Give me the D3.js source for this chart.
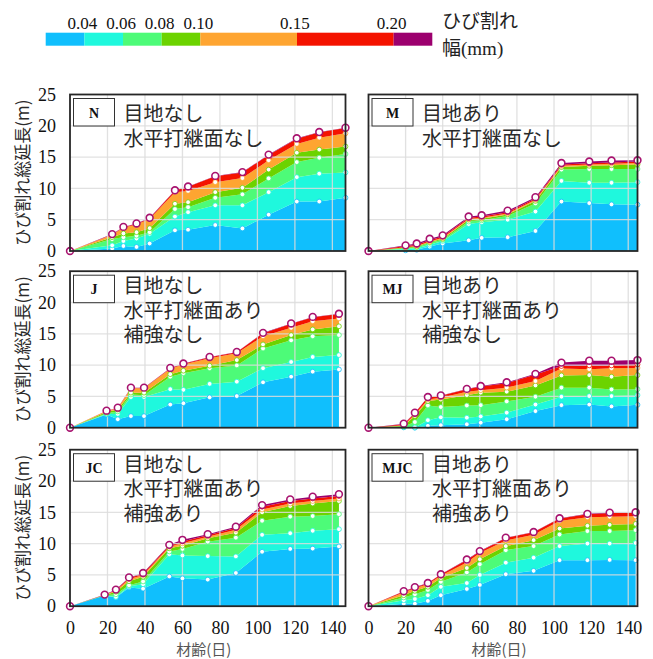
<!DOCTYPE html>
<html>
<head>
<meta charset="utf-8">
<script src="https://cdn.jsdelivr.net/npm/d3@7"></script>
<style>
  body { margin: 0; background: #fff; }
  text { font-family: "Liberation Serif", "Noto Sans CJK JP", serif; }
  .jp { font-family: "Noto Sans CJK JP", sans-serif; }
</style>
</head>
<body>
<script>
// crack width classes (legend)
var classBounds = [0.02, 0.04, 0.06, 0.08, 0.10, 0.15, 0.20, 0.22];
var classLabels = ["0.04", "0.06", "0.08", "0.10", "0.15", "0.20"];
var classColors = ["#10bffd", "#1ff8dd", "#4dfb78", "#6cd300", "#fea531", "#f41300", "#9c006e"];

var xTicks = [0, 20, 40, 60, 80, 100, 120, 140];
var yTicks = [0, 5, 10, 15, 20, 25];

// age (days) and cumulative crack length (m) up to each width class
var daysN = [0, 22.5, 28.5, 35.5, 42.5, 56, 63, 77.5, 92, 106, 121, 133, 147];
var lenN = [
  [0, 0.4, 0.8, 0.65, 1.2, 3.3, 3.4, 4.15, 3.6, 5.8, 7.9, 7.9, 8.5],
  [0, 0.9, 1.6, 2.0, 2.75, 5.5, 6.2, 7.3, 7.3, 9.4, 11.8, 12.35, 12.55],
  [0, 1.9, 2.2, 2.45, 3.0, 6.7, 7.0, 8.5, 9.05, 11.6, 14.2, 14.9, 15.5],
  [0, 2.2, 2.8, 3.0, 3.65, 7.55, 7.8, 9.4, 10.1, 13.0, 15.7, 16.2, 16.7],
  [0, 2.6, 3.7, 4.25, 5.1, 9.4, 9.6, 11.0, 11.65, 14.5, 17.1, 18.1, 18.8],
  [0, 2.65, 3.8, 4.35, 5.25, 9.65, 10.25, 11.95, 12.55, 15.35, 17.95, 18.95, 19.65],
  [0, 2.7, 3.85, 4.4, 5.3, 9.7, 10.3, 12.0, 12.6, 15.4, 18.0, 19.0, 19.7]
];

var daysM = [0, 20, 26, 33, 40, 54, 61, 75, 90, 104, 119, 131, 145];
var lenM = [
  [0, 0.1, 0.2, 0.7, 1.2, 1.7, 2.1, 2.2, 3.2, 7.9, 7.65, 7.45, 7.4],
  [0, 0.3, 0.45, 1.0, 1.6, 4.3, 4.6, 5.0, 6.3, 11.2, 10.9, 10.9, 11.0],
  [0, 0.45, 0.6, 1.3, 1.8, 4.7, 4.9, 5.6, 7.6, 13.0, 13.1, 13.1, 13.1],
  [0, 0.55, 0.7, 1.45, 1.95, 5.0, 5.15, 5.85, 8.0, 13.4, 13.6, 13.7, 13.8],
  [0, 0.6, 0.8, 1.5, 2.1, 5.1, 5.3, 6.0, 8.2, 13.6, 13.8, 13.95, 14.05],
  [0, 0.8, 1.0, 1.7, 2.3, 5.3, 5.5, 6.2, 8.4, 13.8, 14.0, 14.15, 14.3],
  [0, 0.9, 1.2, 1.95, 2.5, 5.5, 5.7, 6.45, 8.6, 14.05, 14.3, 14.45, 14.5]
];

var daysJ = [0, 19.5, 25.5, 32.5, 39.5, 53.5, 60.5, 74.5, 89, 103, 118, 129.5, 143.5];
var lenJ = [
  [0, 2.1, 1.35, 1.85, 1.85, 3.7, 3.9, 4.85, 5.05, 7.25, 8.15, 8.95, 9.3],
  [0, 2.2, 2.2, 4.9, 4.9, 6.15, 6.05, 7.0, 7.35, 9.5, 10.5, 11.3, 11.6],
  [0, 2.3, 2.6, 5.3, 5.2, 8.15, 8.7, 9.5, 9.95, 12.65, 13.95, 14.6, 14.8],
  [0, 2.5, 2.9, 5.6, 5.6, 8.55, 9.1, 9.9, 10.8, 13.3, 14.8, 15.7, 16.2],
  [0, 2.65, 3.1, 6.3, 6.3, 9.4, 10.1, 11.1, 11.9, 14.6, 15.95, 17.0, 17.45],
  [0, 2.7, 3.15, 6.35, 6.35, 9.5, 10.2, 11.25, 12.05, 15.1, 16.6, 17.65, 18.15],
  [0, 2.72, 3.2, 6.4, 6.4, 9.55, 10.25, 11.3, 12.1, 15.15, 16.65, 17.7, 18.2]
];

var daysMJ = [0, 19, 25, 32, 39, 53, 60.5, 74.5, 90, 104, 119, 131, 145];
var lenMJ = [
  [0, 0.05, 0, 0.3, 0.4, 0.55, 0.8, 1.35, 2.65, 3.6, 3.7, 3.4, 3.65],
  [0, 0.1, 0.05, 1.2, 1.65, 1.6, 1.8, 2.4, 3.7, 4.95, 5.05, 5.05, 5.2],
  [0, 0.2, 0.9, 3.55, 3.3, 3.55, 3.6, 4.2, 4.95, 6.4, 6.4, 6.1, 6.15],
  [0, 0.3, 1.85, 4.25, 4.5, 5.2, 5.6, 5.75, 6.75, 8.35, 8.4, 8.15, 8.4],
  [0, 0.4, 2.1, 4.5, 4.8, 5.75, 6.0, 6.4, 7.45, 9.45, 9.35, 9.5, 9.55],
  [0, 0.55, 2.35, 4.85, 5.1, 6.15, 6.6, 7.1, 8.5, 9.85, 9.95, 9.95, 10.1],
  [0, 0.65, 2.4, 4.9, 5.15, 6.2, 6.65, 7.25, 8.6, 10.4, 10.7, 10.7, 10.8]
];

var daysJC = [0, 18.5, 24.5, 31.5, 39, 53, 60, 73.5, 88.5, 102.5, 117.5, 129.5, 143.5];
var lenJC = [
  [0, 1.7, 1.4, 3.0, 2.8, 4.75, 4.45, 4.25, 5.3, 8.7, 9.15, 9.2, 9.55],
  [0, 1.72, 1.5, 3.2, 3.5, 8.3, 8.1, 8.0, 7.95, 11.4, 11.65, 12.05, 12.3],
  [0, 1.75, 1.9, 3.35, 3.95, 8.75, 9.15, 10.3, 10.95, 13.65, 14.3, 14.4, 14.7],
  [0, 1.78, 2.3, 4.0, 4.7, 9.25, 9.65, 10.85, 11.75, 15.0, 16.0, 16.4, 16.8],
  [0, 1.8, 2.5, 4.3, 5.0, 9.5, 10.05, 11.1, 12.2, 15.45, 16.4, 16.8, 17.2],
  [0, 1.82, 2.6, 4.5, 5.2, 9.7, 10.35, 11.35, 12.5, 15.9, 16.8, 17.2, 17.6],
  [0, 1.85, 2.65, 4.6, 5.3, 9.8, 10.6, 11.5, 12.7, 16.15, 17.05, 17.5, 17.9]
];

var daysMJC = [0, 19, 25, 32, 39, 53, 60, 74, 89, 103, 118, 130, 144];
var lenMJC = [
  [0, 0.4, 0.4, 0.85, 1.75, 2.75, 3.4, 5.1, 5.65, 7.35, 7.35, 7.4, 7.35],
  [0, 0.95, 1.15, 1.75, 3.1, 3.7, 5.0, 6.95, 7.75, 9.6, 10.0, 10.0, 10.1],
  [0, 1.4, 1.9, 2.6, 3.9, 5.4, 6.7, 8.95, 9.6, 11.45, 12.0, 12.0, 12.15],
  [0, 1.75, 2.45, 3.1, 4.5, 6.1, 7.5, 9.6, 10.55, 12.4, 12.85, 13.0, 13.15],
  [0, 2.2, 2.85, 3.5, 4.85, 7.0, 8.5, 10.5, 11.4, 13.6, 14.2, 14.3, 14.35],
  [0, 2.35, 3.0, 3.65, 5.05, 7.4, 8.75, 10.9, 11.8, 14.0, 14.7, 14.9, 14.95],
  [0, 2.4, 3.05, 3.7, 5.1, 7.45, 8.8, 10.95, 11.85, 14.05, 14.75, 14.95, 15.0]
];

var panels = [
  {id: "N",   col: 0, row: 0, days: daysN,   len: lenN,   lines: ["目地なし", "水平打継面なし"]},
  {id: "M",   col: 1, row: 0, days: daysM,   len: lenM,   lines: ["目地あり", "水平打継面なし"]},
  {id: "J",   col: 0, row: 1, days: daysJ,   len: lenJ,   lines: ["目地なし", "水平打継面あり", "補強なし"]},
  {id: "MJ",  col: 1, row: 1, days: daysMJ,  len: lenMJ,  lines: ["目地あり", "水平打継面あり", "補強なし"]},
  {id: "JC",  col: 0, row: 2, days: daysJC,  len: lenJC,  lines: ["目地なし", "水平打継面あり", "補強あり"]},
  {id: "MJC", col: 1, row: 2, days: daysMJC, len: lenMJC, lines: ["目地あり", "水平打継面あり", "補強あり"]}
];

// layout
var colX = [[70, 345.5], [368.5, 637.5]];
var colMax = [147, 145];
var rowTop = [94.5, 271.2, 449.7];
var plotH = 156.5;

var svg = d3.select("body").append("svg")
    .attr("width", 653)
    .attr("height", 659);

// ---- legend ----
var lx = d3.scaleLinear().domain([0.02, 0.22]).range([45.7, 432.3]);
var legend = svg.append("g").attr("class", "legend");
legend.selectAll("rect")
    .data(classColors)
    .enter().append("rect")
    .attr("x", function(d, i) { return lx(classBounds[i]); })
    .attr("y", 32.7)
    .attr("width", function(d, i) { return lx(classBounds[i + 1]) - lx(classBounds[i]); })
    .attr("height", 13)
    .attr("fill", function(d) { return d; });
legend.selectAll("text.lab")
    .data(classLabels)
    .enter().append("text")
    .attr("class", "lab")
    .attr("x", function(d, i) { return lx(classBounds[i + 1]) - 2; })
    .attr("y", 29.3)
    .attr("text-anchor", "middle")
    .style("font-size", "17px")
    .attr("fill", "#111")
    .text(function(d) { return d; });
legend.append("text").attr("x", 442).attr("y", 28).style("font-size", "19px").attr("fill", "#222").text("ひび割れ");
legend.append("text").attr("x", 442).attr("y", 55).style("font-size", "19px").attr("fill", "#222").text("幅(mm)");

// ---- panels ----
panels.forEach(function(p) {
  var x = d3.scaleLinear().domain([0, colMax[p.col]]).range(colX[p.col]);
  var top = rowTop[p.row];
  var y = d3.scaleLinear().domain([0, 25]).range([top + plotH, top]);
  var g = svg.append("g").attr("class", "panel-" + p.id);
  var idx = d3.range(p.days.length);

  // stacked areas between successive cumulative lengths
  p.len.forEach(function(series, k) {
    var area = d3.area()
        .x(function(i) { return x(p.days[i]); })
        .y0(function(i) { return y(k === 0 ? 0 : p.len[k - 1][i]); })
        .y1(function(i) { return y(series[i]); });
    g.append("path")
        .datum(idx)
        .attr("d", area)
        .attr("fill", classColors[k]);
  });

  // grid
  g.selectAll("line.vg")
    .data(xTicks.slice(1))
    .enter().append("line")
    .attr("x1", function(d) { return x(d); })
    .attr("x2", function(d) { return x(d); })
    .attr("y1", y(0)).attr("y2", y(25))
    .attr("stroke", "#dcdcdc").attr("stroke-opacity", 0.85).attr("stroke-width", 1.3);
  g.selectAll("line.hg")
    .data(yTicks.slice(1, -1))
    .enter().append("line")
    .attr("x1", colX[p.col][0]).attr("x2", colX[p.col][1])
    .attr("y1", function(d) { return y(d); })
    .attr("y2", function(d) { return y(d); })
    .attr("stroke", "#dcdcdc").attr("stroke-opacity", 0.85).attr("stroke-width", 1.3);

  // markers
  p.len.forEach(function(series, k) {
    var last = k === p.len.length - 1;
    g.selectAll("circle.m" + k)
      .data(idx)
      .enter().append("circle")
      .attr("cx", function(i) { return x(p.days[i]); })
      .attr("cy", function(i) { return y(series[i]); })
      .attr("r", last ? 3.4 : 2.4)
      .attr("fill", "#fff")
      .attr("stroke", last ? "#a8136f" : classColors[k])
      .attr("stroke-width", last ? 1.6 : 0.8);
  });

  // frame
  g.append("rect")
    .attr("x", colX[p.col][0]).attr("y", top)
    .attr("width", colX[p.col][1] - colX[p.col][0])
    .attr("height", plotH)
    .attr("fill", "none")
    .attr("stroke", "#262626")
    .attr("stroke-width", 1.8);

  // id box
  var bw = p.id.length > 2 ? 51 : 41;
  var bx = colX[p.col][0] + 3.5;
  g.append("rect")
    .attr("x", bx).attr("y", top + 4)
    .attr("width", bw).attr("height", 27.5)
    .attr("fill", "#fff").attr("stroke", "#333").attr("stroke-width", 1);
  g.append("text")
    .attr("x", bx + bw / 2).attr("y", top + 23)
    .attr("text-anchor", "middle")
    .attr("font-size", 14).attr("font-weight", "bold").attr("fill", "#111")
    .text(p.id);

  // description
  var base = p.lines.length > 2 ? 22 : 26.5;
  var step = p.lines.length > 2 ? 24.5 : 25;
  g.selectAll("text.desc")
    .data(p.lines)
    .enter().append("text")
    .attr("class", "jp")
    .attr("x", bx + bw + 9)
    .attr("y", function(d, i) { return top + base + i * step; })
    .attr("font-size", 20)
    .attr("fill", "#2a2a2a")
    .text(function(d) { return d; });

  // axes
  if (p.col === 0) {
    var ya = g.append("g")
        .attr("transform", "translate(" + (colX[0][0] - 14) + ",0)")
        .call(d3.axisLeft(y).tickValues(yTicks).tickSize(0).tickPadding(0));
    ya.select(".domain").remove();
    ya.selectAll("text")
        .attr("font-family", "Liberation Serif")
        .attr("font-size", 18).attr("fill", "#111");
    g.append("text")
        .attr("class", "jp")
        .attr("transform", "translate(29," + (top + plotH / 2) + ") rotate(-90)")
        .attr("text-anchor", "middle")
        .attr("font-size", 17)
        .attr("fill", "#2a2a2a")
        .text("ひび割れ総延長(m)");
  }
  if (p.row === 2) {
    var xa = g.append("g")
        .attr("transform", "translate(0," + (top + plotH + 15) + ")")
        .call(d3.axisBottom(x).tickValues(xTicks).tickSize(0).tickPadding(0));
    xa.select(".domain").remove();
    xa.selectAll("text")
        .attr("font-family", "Liberation Serif")
        .attr("font-size", 18).attr("fill", "#111");
    g.append("text")
        .attr("class", "jp")
        .attr("x", (colX[p.col][0] + colX[p.col][1]) / 2 - 4)
        .attr("y", 655)
        .attr("text-anchor", "middle")
        .attr("font-size", 15)
        .attr("fill", "#555")
        .text("材齢(日)");
  }
});
</script>
</body>
</html>
